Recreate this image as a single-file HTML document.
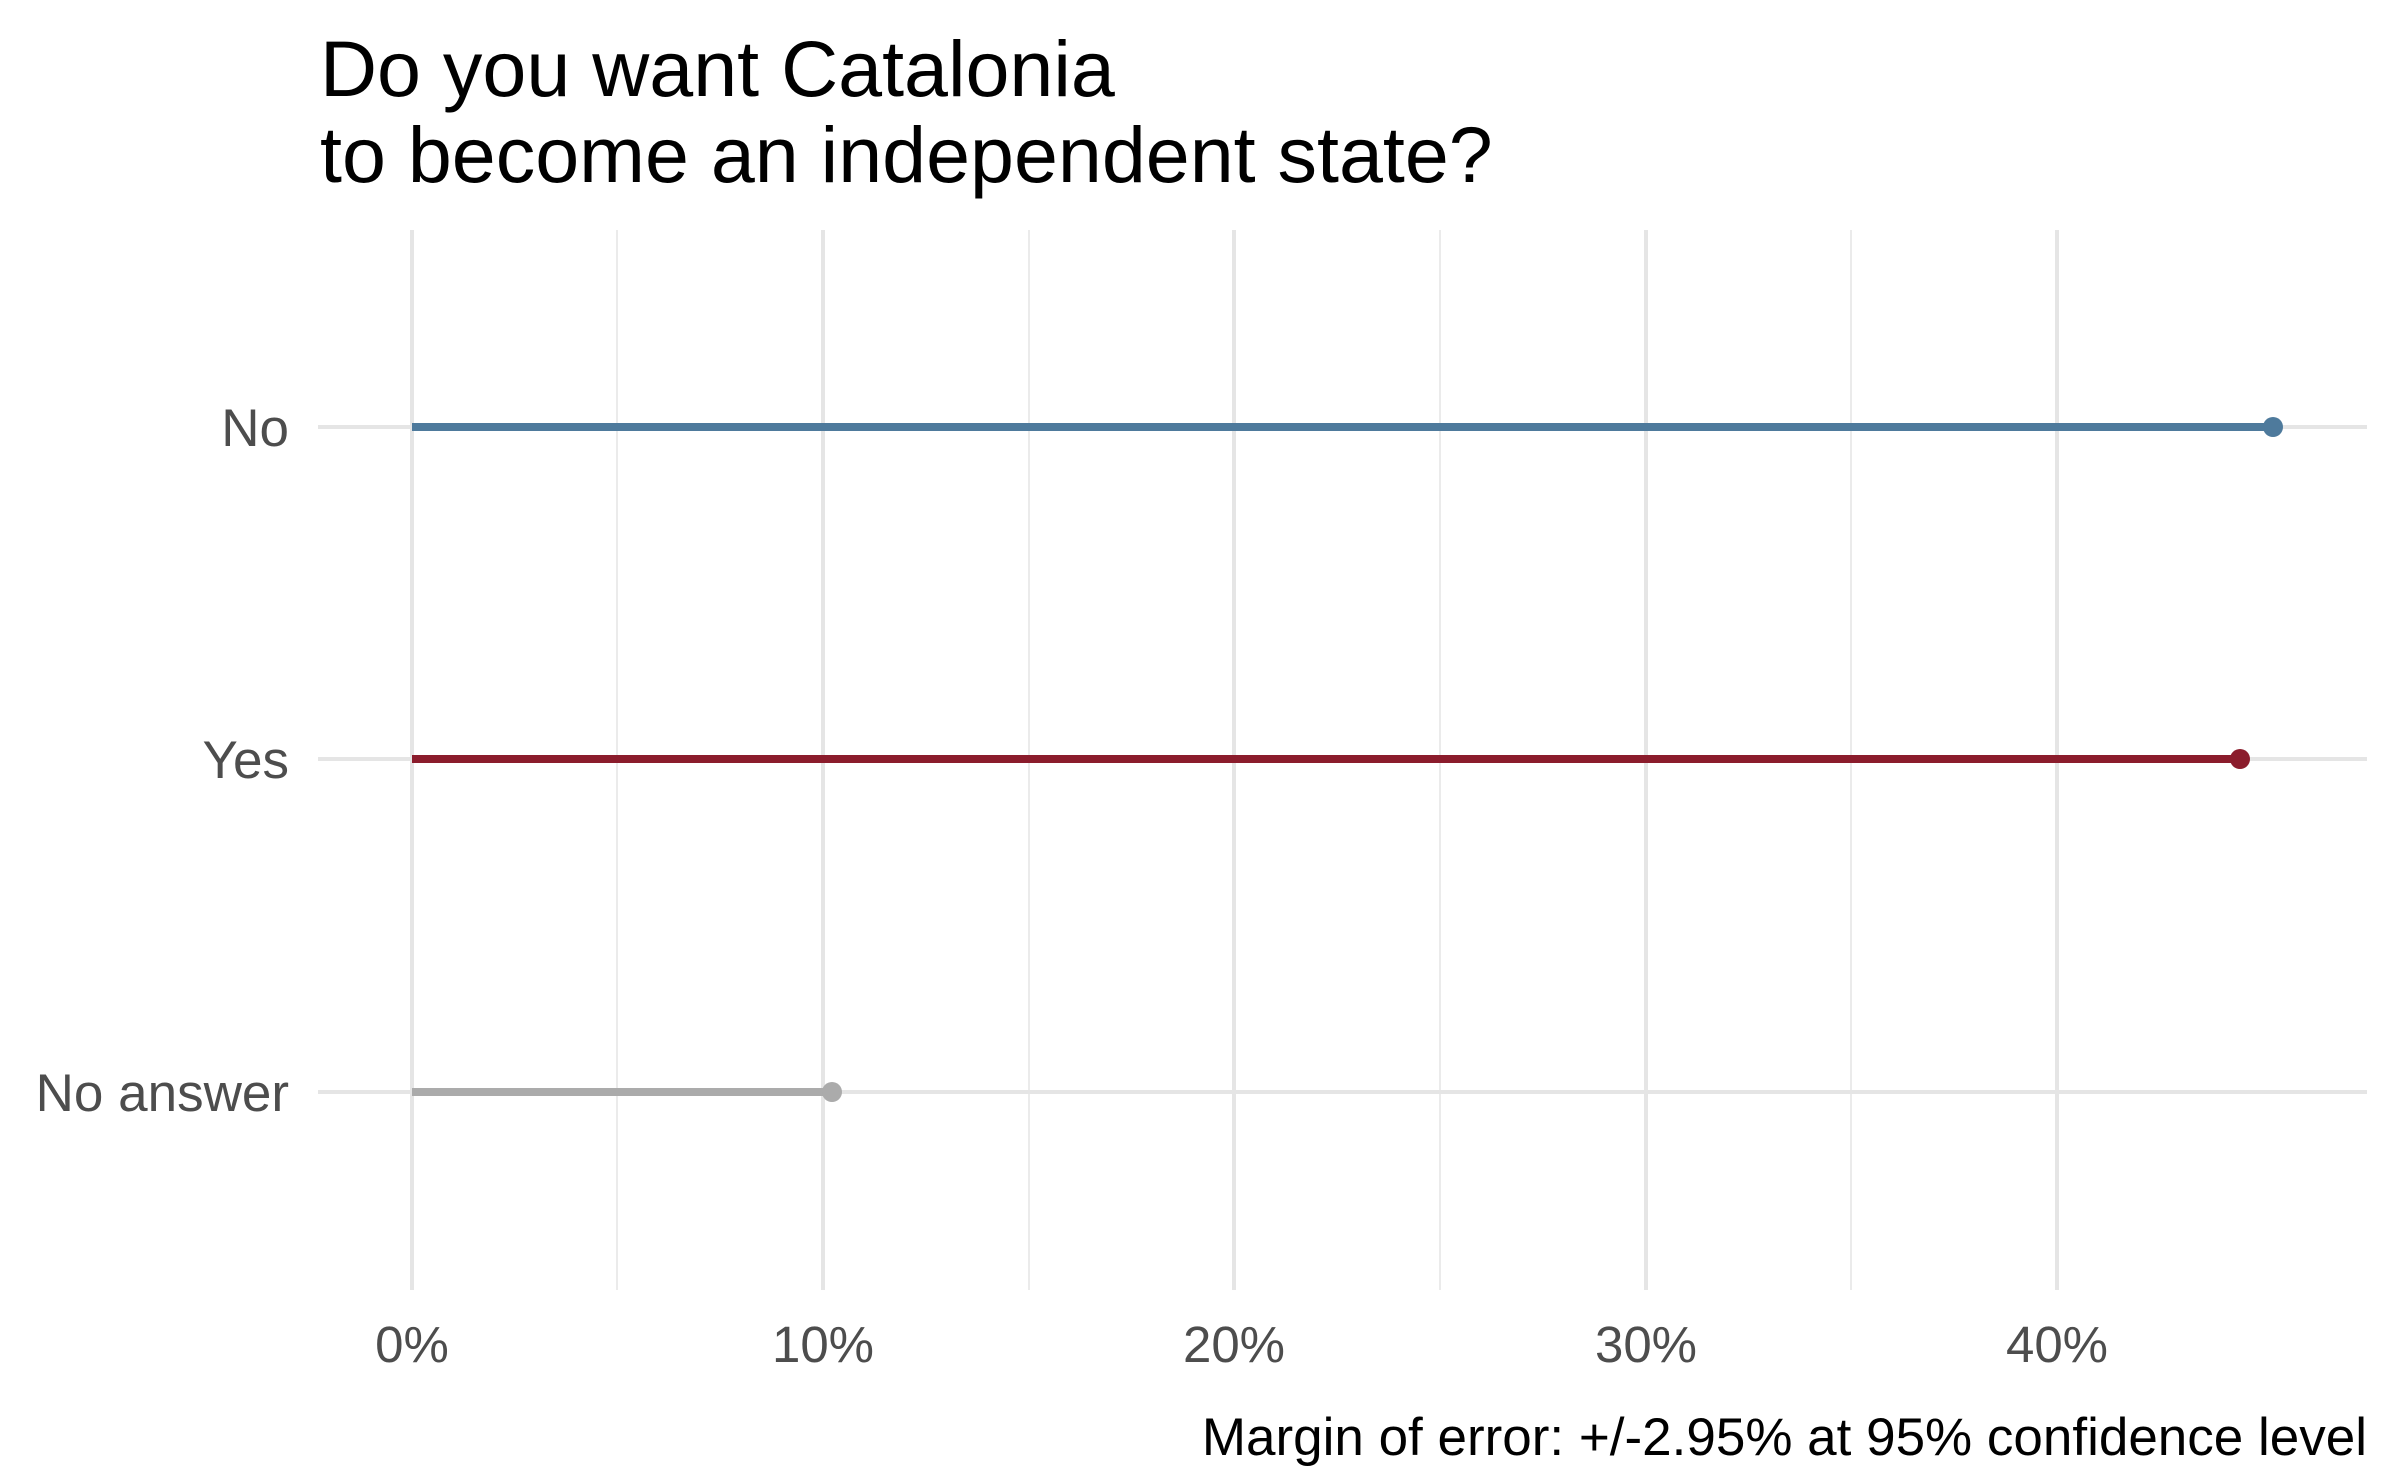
<!DOCTYPE html>
<html><head><style>
html,body{margin:0;padding:0;background:#fff;}
svg{display:block;}
text{font-family:"Liberation Sans",Arial,sans-serif;}
</style></head><body>
<svg width="2400" height="1483" viewBox="0 0 2400 1483" xmlns="http://www.w3.org/2000/svg">
<rect width="2400" height="1483" fill="#fff"/>
<g stroke="#ebebeb" stroke-width="2">
<line x1="617" y1="230" x2="617" y2="1290"/>
<line x1="1029" y1="230" x2="1029" y2="1290"/>
<line x1="1440" y1="230" x2="1440" y2="1290"/>
<line x1="1851" y1="230" x2="1851" y2="1290"/>
</g>
<g stroke="#e5e5e5" stroke-width="4">
<line x1="412" y1="230" x2="412" y2="1290"/>
<line x1="823" y1="230" x2="823" y2="1290"/>
<line x1="1234" y1="230" x2="1234" y2="1290"/>
<line x1="1646" y1="230" x2="1646" y2="1290"/>
<line x1="2057" y1="230" x2="2057" y2="1290"/>
<line x1="318" y1="427" x2="2367" y2="427"/>
<line x1="318" y1="759" x2="2367" y2="759"/>
<line x1="318" y1="1092" x2="2367" y2="1092"/>
</g>
<line x1="412" y1="427" x2="2273" y2="427" stroke="#4e7a9c" stroke-width="8"/>
<circle cx="2273" cy="427" r="10" fill="#4e7a9c"/>
<line x1="412" y1="759" x2="2240" y2="759" stroke="#8b1c2c" stroke-width="8"/>
<circle cx="2240" cy="759" r="10" fill="#8b1c2c"/>
<line x1="412" y1="1092" x2="832" y2="1092" stroke="#ababab" stroke-width="8"/>
<circle cx="832" cy="1092" r="10" fill="#ababab"/>
<text x="320" y="96" font-size="79" fill="#000">Do you want Catalonia</text>
<text x="320" y="182" font-size="79" fill="#000">to become an independent state?</text>
<g font-size="53" fill="#4d4d4d" text-anchor="end">
<text x="289" y="446">No</text>
<text x="289" y="778">Yes</text>
<text x="289" y="1111">No answer</text>
</g>
<g font-size="51" fill="#4d4d4d" text-anchor="middle">
<text x="412" y="1362">0%</text>
<text x="823" y="1362">10%</text>
<text x="1234" y="1362">20%</text>
<text x="1646" y="1362">30%</text>
<text x="2057" y="1362">40%</text>
</g>
<text x="2367" y="1455" font-size="53" fill="#000" text-anchor="end">Margin of error: +/-2.95% at 95% confidence level</text>
</svg>
</body></html>
